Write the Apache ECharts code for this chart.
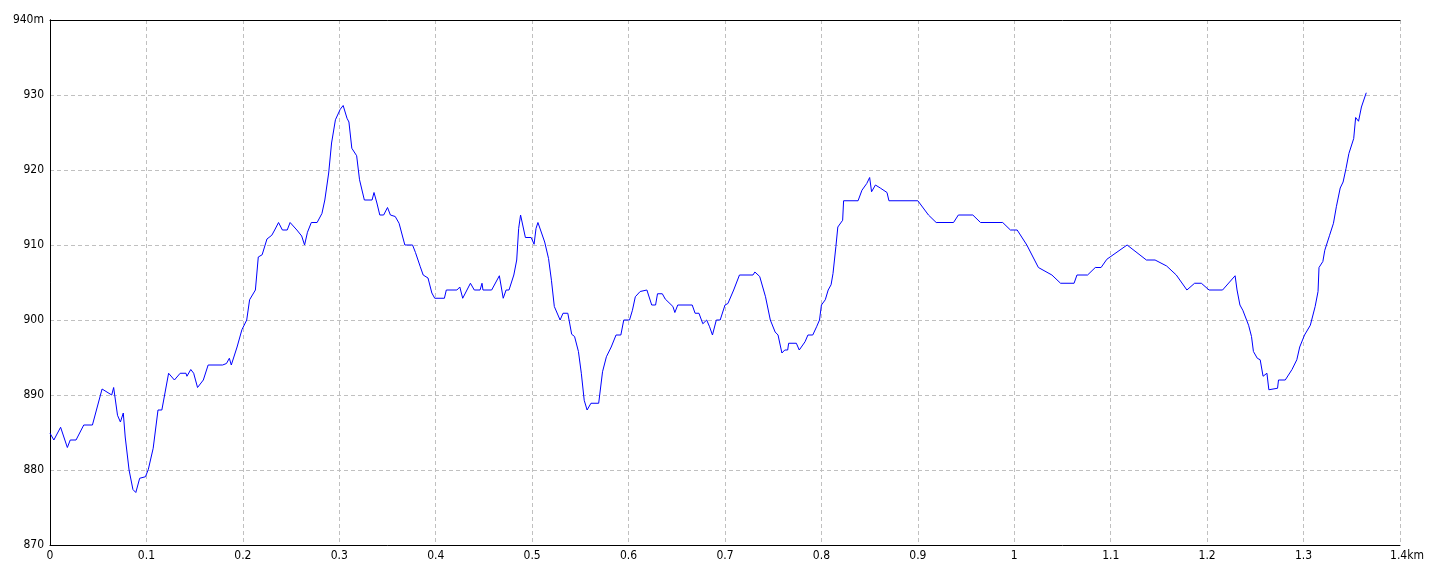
<!DOCTYPE html>
<html>
<head>
<meta charset="utf-8">
<script src="https://cdn.jsdelivr.net/npm/echarts@6/dist/echarts.min.js"></script>
<style>
html,body{margin:0;padding:0;background:#fff;}
#chart{width:1440px;height:576px;}
</style>
</head>
<body>
<div id="chart"></div>
<script>
// distance (km)
var dist = [0, 0.004, 0.011, 0.018, 0.021, 0.027, 0.035, 0.044, 0.054, 0.064, 0.066, 0.070, 0.073, 0.076, 0.078, 0.082, 0.086, 0.089, 0.093, 0.099,
  0.102, 0.107, 0.112, 0.116, 0.123, 0.129, 0.135, 0.141, 0.142, 0.146, 0.149, 0.153, 0.159, 0.164, 0.179, 0.183, 0.186, 0.188, 0.194, 0.199,
  0.204, 0.207, 0.213, 0.216, 0.220, 0.225, 0.230, 0.233, 0.237, 0.241, 0.246, 0.249, 0.256, 0.261, 0.264, 0.267, 0.271, 0.277, 0.282, 0.285,
  0.289, 0.292, 0.296, 0.301, 0.304, 0.308, 0.310, 0.313, 0.318, 0.321, 0.326, 0.334, 0.336, 0.339, 0.342, 0.346, 0.350, 0.353, 0.358, 0.362,
  0.368, 0.376, 0.379, 0.384, 0.387, 0.392, 0.396, 0.399, 0.409, 0.411, 0.422, 0.425, 0.428, 0.436, 0.438, 0.440, 0.446, 0.448, 0.449, 0.458,
  0.466, 0.470, 0.473, 0.476, 0.481, 0.484, 0.486, 0.488, 0.490, 0.493, 0.499, 0.502, 0.504, 0.506, 0.513, 0.517, 0.520, 0.523, 0.529, 0.532,
  0.537, 0.541, 0.544, 0.548, 0.551, 0.554, 0.557, 0.561, 0.569, 0.573, 0.577, 0.582, 0.587, 0.592, 0.595, 0.601, 0.604, 0.607, 0.612, 0.619,
  0.624, 0.628, 0.630, 0.635, 0.638, 0.646, 0.648, 0.651, 0.666, 0.669, 0.673, 0.677, 0.681, 0.684, 0.687, 0.691, 0.695, 0.700, 0.703, 0.709,
  0.715, 0.729, 0.731, 0.736, 0.742, 0.747, 0.752, 0.755, 0.759, 0.762, 0.765, 0.766, 0.774, 0.777, 0.783, 0.786, 0.791, 0.795, 0.798, 0.800,
  0.804, 0.807, 0.810, 0.812, 0.815, 0.817, 0.822, 0.823, 0.838, 0.842, 0.847, 0.850, 0.852, 0.856, 0.861, 0.868, 0.870, 0.900, 0.911, 0.919,
  0.937, 0.942, 0.957, 0.965, 0.988, 0.996, 1.003, 1.013, 1.025, 1.039, 1.048, 1.062, 1.065, 1.076, 1.084, 1.090, 1.096, 1.117, 1.137, 1.146,
  1.158, 1.168, 1.179, 1.187, 1.194, 1.202, 1.216, 1.229, 1.231, 1.234, 1.237, 1.243, 1.246, 1.248, 1.252, 1.255, 1.258, 1.262, 1.263, 1.264,
  1.273, 1.274, 1.281, 1.288, 1.293, 1.296, 1.301, 1.307, 1.312, 1.315, 1.316, 1.320, 1.322, 1.327, 1.331, 1.334, 1.338, 1.341, 1.344, 1.347,
  1.352, 1.354, 1.357, 1.360, 1.365];
// elevation (m)
var elev = [884.9, 884, 885.7, 883, 884, 884, 886, 886, 890.8, 890, 891, 887.3, 886.4, 887.6, 884.4, 880, 877.4, 877, 878.9, 879.1,
  880.1, 882.9, 888, 888, 892.9, 892, 892.9, 892.9, 892.5, 893.4, 892.9, 891, 892, 894, 894, 894.2, 894.9, 894, 896.4, 898.7,
  900, 902.7, 904, 908.4, 908.7, 910.8, 911.3, 912, 913, 912, 912, 913, 912, 911.2, 910, 911.7, 913, 913, 914.2, 916,
  919.6, 923.6, 926.7, 928.1, 928.6, 926.9, 926.4, 922.9, 921.9, 918.7, 916, 916, 917, 915.6, 914, 914, 915, 914, 913.8, 912.9,
  910, 910, 909, 907.1, 906, 905.6, 903.6, 902.9, 902.9, 904, 904, 904.4, 902.9, 904.9, 904.9, 904, 904, 904.9, 904, 904,
  905.9, 902.9, 904, 904, 906, 908, 912.2, 914, 914, 911, 911, 910.1, 912.2, 913, 910.4, 908.2, 905.3, 901.8, 900, 900.9,
  900.9, 898.1, 897.8, 895.8, 892.9, 889.3, 888, 888.9, 888.9, 893.1, 895.1, 896.4, 898, 898, 900, 900, 901.3, 903.1, 903.8, 904,
  902, 902, 903.5, 903.5, 902.8, 901.8, 901, 902, 902, 900.9, 900.9, 899.5, 900, 899.1, 898, 900, 900, 902, 902.2, 904,
  906, 906, 906.4, 905.8, 903.1, 900, 898.4, 898, 895.6, 896, 896, 896.9, 896.9, 896, 897.1, 898, 898, 899.1, 900, 902,
  902.7, 904, 904.7, 906.2, 909.8, 912.4, 913.3, 915.9, 915.9, 917.3, 918.2, 919, 917.1, 918, 917.6, 917, 915.9, 915.9, 914, 913,
  913, 914, 914, 913, 913, 912, 912, 910, 907, 906, 904.9, 904.9, 906, 906, 907, 907, 908.1, 910, 908, 908,
  907.2, 906, 904, 904.9, 904.9, 904, 904, 905.9, 904, 902, 901.3, 899.3, 897.8, 895.8, 894.9, 894.7, 892.5, 892.9, 892.7, 890.7,
  890.9, 892, 892, 893.4, 894.7, 896.4, 898, 899.3, 901.8, 903.8, 907, 907.8, 909.3, 911.3, 912.9, 915.1, 917.6, 918.4, 920.2, 922.2,
  924.2, 927, 926.5, 928.4, 930.3];
// axis ticks
var xTicks = [0, 0.1, 0.2, 0.3, 0.4, 0.5, 0.6, 0.7, 0.8, 0.9, 1, 1.1, 1.2, 1.3, 1.4];
var yTicks = [870, 880, 890, 900, 910, 920, 930, 940];
var xUnit = 'km', yUnit = 'm';

var points = dist.map(function (d, i) { return [d, elev[i]]; });
var font = "'DejaVu Sans Condensed', 'Liberation Sans Narrow', 'DejaVu Sans', sans-serif";
var fs = 12;
var xMin = xTicks[0], xMax = xTicks[xTicks.length - 1];
var yMin = yTicks[0], yMax = yTicks[yTicks.length - 1];
var dash = {color: '#c0c0c0', type: [4, 3], width: 1};
var border = {show: true, lineStyle: {color: '#000', width: 1}};

var chart = echarts.init(document.getElementById('chart'), null, {renderer: 'canvas'});
chart.setOption({
  animation: false,
  backgroundColor: '#ffffff',
  grid: {left: 50, right: 40, top: 20, bottom: 31},
  xAxis: [{
    type: 'value', min: xMin, max: xMax, interval: 0.1, position: 'bottom',
    axisLine: border, axisTick: {show: false},
    splitLine: {show: true, lineStyle: dash},
    axisLabel: {
      margin: 5, color: '#000', fontFamily: font, fontSize: fs,
      formatter: function (v) {
        var s = String(+v.toFixed(1));
        return (Math.abs(v - xMax) < 1e-9) ? '{u|' + s + xUnit + '}' : s;
      },
      rich: {u: {fontFamily: font, fontSize: fs, color: '#000', padding: [0, 0, 0, 14]}}
    }
  }, {
    type: 'value', min: xMin, max: xMax, interval: 0.1, position: 'top',
    axisLine: border, axisTick: {show: false}, axisLabel: {show: false}, splitLine: {show: false}
  }],
  yAxis: [{
    type: 'value', min: yMin, max: yMax, interval: 10, position: 'left',
    axisLine: border, axisTick: {show: false},
    splitLine: {show: true, lineStyle: dash},
    axisLabel: {
      margin: 6, color: '#000', fontFamily: font, fontSize: fs,
      formatter: function (v) { return v === yMax ? v + yUnit : String(v); }
    }
  }, {
    type: 'value', min: yMin, max: yMax, interval: 10, position: 'right',
    axisLine: border, axisTick: {show: false}, axisLabel: {show: false}, splitLine: {show: false}
  }],
  series: [{
    type: 'line', data: points, showSymbol: false, smooth: false, xAxisIndex: 0, yAxisIndex: 0,
    lineStyle: {color: '#0000ff', width: 1}, itemStyle: {color: '#0000ff'},
    silent: true
  }]
});
</script>
</body>
</html>
